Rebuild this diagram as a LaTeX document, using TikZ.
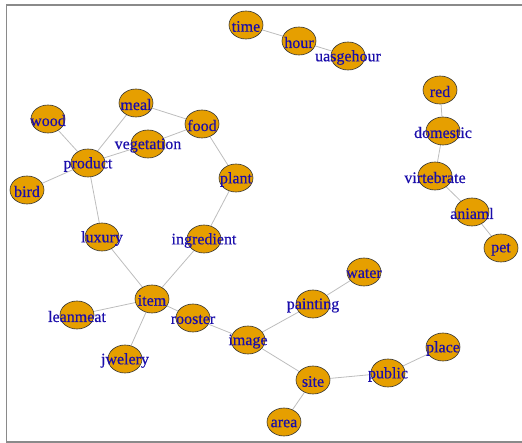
\documentclass[tikz,border=0pt]{standalone}
\usepackage{fontspec}
\setmainfont{Liberation Serif}
\newfontfamily\lblfont{Liberation Serif}[FakeBold=0.4]
\usetikzlibrary{shapes.geometric}
\definecolor{nodefill}{HTML}{E69F00}
\definecolor{labelblue}{HTML}{1A0DAB}
\definecolor{edgegray}{HTML}{BDBDBD}
\definecolor{framegray}{HTML}{8A8A8A}
\tikzset{
  vert/.style={ellipse, draw=black!80, line width=0.6pt, fill=nodefill,
    minimum width=34pt, minimum height=28pt, inner sep=0pt},
  vlabel/.style={text=labelblue, font=\lblfont\fontsize{16}{16}\selectfont, inner sep=0pt, yshift=-1.5pt},
  edge/.style={draw=edgegray, line width=0.8pt},
  frame/.style={draw=framegray, line width=1.6pt}
}
\pgfdeclarelayer{bg}
\pgfsetlayers{bg,main}
\begin{document}
\begin{tikzpicture}[x=1pt,y=-1pt]
\useasboundingbox (0,0) rectangle (522,443);
\begin{scope}
\clip (0,0) rectangle (522,443);
\draw[frame] (6.5,4.8) rectangle (530,442);
\end{scope}
% nodes
\node[vert] (time) at (246,25) {};
\node[vert] (hour) at (299,41) {};
\node[vert] (uasgehour) at (348,56) {};
\node[vert] (red) at (440,90) {};
\node[vert] (domestic) at (443,131) {};
\node[vert] (virtebrate) at (435,176) {};
\node[vert] (aniaml) at (472,212) {};
\node[vert] (pet) at (501,248) {};
\node[vert] (wood) at (48,119) {};
\node[vert] (meal) at (136,103) {};
\node[vert] (food) at (202,124) {};
\node[vert] (vegetation) at (148,144) {};
\node[vert] (product) at (88,163) {};
\node[vert] (bird) at (27,190) {};
\node[vert] (plant) at (236,178) {};
\node[vert] (luxury) at (102,237) {};
\node[vert] (ingredient) at (204,239) {};
\node[vert] (item) at (152,299) {};
\node[vert] (leanmeat) at (77,315) {};
\node[vert] (rooster) at (193,318) {};
\node[vert] (jwelery) at (125,359) {};
\node[vert] (image) at (248,340) {};
\node[vert] (painting) at (313,304) {};
\node[vert] (water) at (364,272) {};
\node[vert] (site) at (313,380) {};
\node[vert] (public) at (388,373) {};
\node[vert] (place) at (443,347) {};
\node[vert] (area) at (284,422) {};
% edges (behind nodes)
\begin{pgfonlayer}{bg}
\foreach \a/\b in {time/hour, hour/uasgehour, red/domestic, domestic/virtebrate,
  virtebrate/aniaml, aniaml/pet, wood/product, bird/product, product/meal,
  product/vegetation, vegetation/food, meal/food, food/plant, plant/ingredient,
  product/luxury, luxury/item, ingredient/item, item/leanmeat, item/jwelery,
  item/rooster, rooster/image, image/painting, painting/water, image/site,
  site/public, public/place, site/area}
  \draw[edge] (\a) -- (\b);
\end{pgfonlayer}
% labels
\foreach \n in {time,hour,uasgehour,red,domestic,virtebrate,aniaml,pet,wood,meal,food,vegetation,product,bird,plant,luxury,ingredient,item,leanmeat,rooster,jwelery,image,painting,water,site,public,place,area}
  \node[vlabel] (lbl-\n) at (\n.center) {\n};
\end{tikzpicture}
\end{document}
